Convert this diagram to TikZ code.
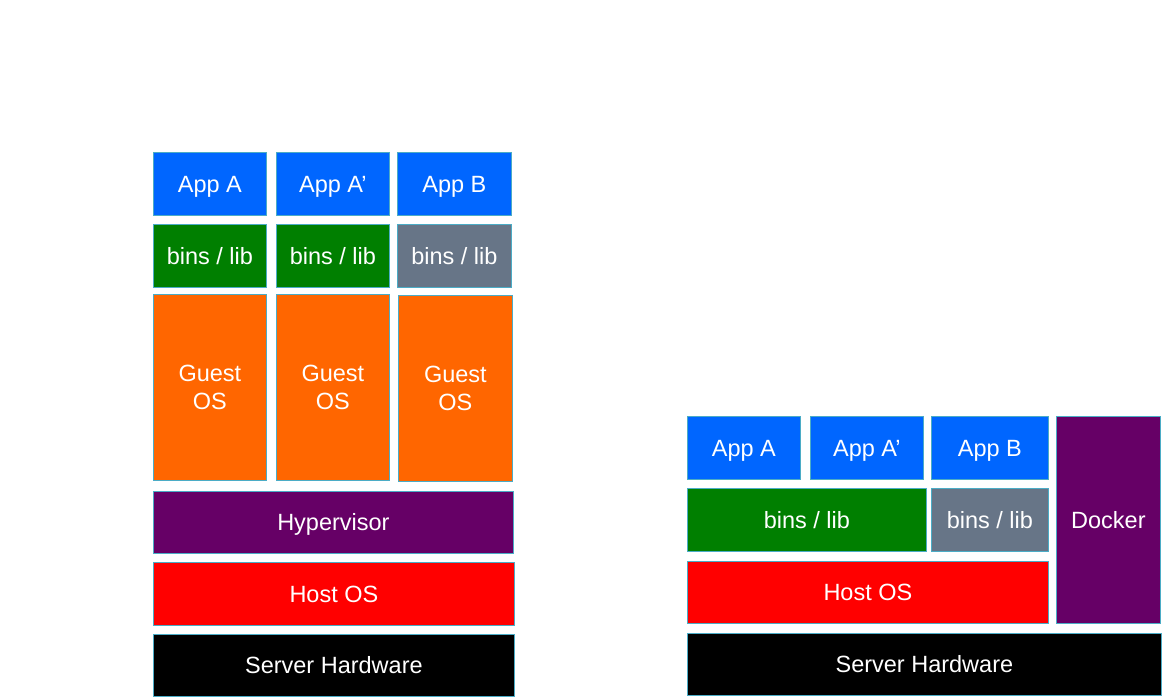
\documentclass[tikz,border=0pt]{standalone}
\usepackage{fontspec}
\setmainfont{Liberation Sans}
\usepackage{tikz}
\usetikzlibrary{positioning}

\definecolor{appblue}{HTML}{0066FF}
\definecolor{libgreen}{HTML}{007F00}
\definecolor{libgray}{HTML}{677587}
\definecolor{osorange}{HTML}{FF6600}
\definecolor{hvpurple}{HTML}{660066}
\definecolor{hostred}{HTML}{FF0000}
\definecolor{edgecyan}{HTML}{4BACC6}

\begin{document}
\begin{tikzpicture}[x=1pt,y=-1pt,
    box/.style={draw=edgecyan,line width=0.8pt,rectangle,anchor=north west,
      inner sep=0pt,text=white,align=center,font=\fontsize{23.5}{28}\selectfont},
    layer/.style={box,text height=17pt,text depth=0pt},
    app/.style={layer,fill=appblue,minimum width=113pt,minimum height=63pt},
    libs/.style={layer,fill=libgreen,minimum height=63pt},
    guest/.style={box,fill=osorange,minimum width=113pt,minimum height=186pt}]
  \useasboundingbox (0,0) rectangle (1162,697);
  % virtual machines
  \node[app] (vmAppA) at (153,152) {App A};
  \node[app] (vmAppA2) at (276,152) {App A'};
  \node[app,minimum width=114pt] (vmAppB) at (397,152) {App B};
  \node[libs,minimum width=113pt] (vmLibA) at (153,224) {bins / lib};
  \node[libs,minimum width=113pt] (vmLibA2) at (276,224) {bins / lib};
  \node[libs,fill=libgray,minimum width=114pt] (vmLibB) at (397,224) {bins / lib};
  \node[guest] (guestA) at (153,294) {Guest\\OS};
  \node[guest] (guestA2) at (276,294) {Guest\\OS};
  \node[guest,minimum width=114pt] (guestB) at (398,295) {Guest\\OS};
  \node[layer,fill=hvpurple,minimum width=360pt,minimum height=62pt] (hypervisor) at (153,491) {Hypervisor};
  \node[layer,fill=hostred,minimum width=361pt,minimum height=63pt] (vmHost) at (153,562) {Host OS};
  \node[layer,fill=black,minimum width=361pt,minimum height=62pt] (vmServer) at (153,634) {Server Hardware};
  % containers
  \node[app] (ctAppA) at (687,416) {App A};
  \node[app] (ctAppA2) at (810,416) {App A'};
  \node[app,minimum width=117pt] (ctAppB) at (931,416) {App B};
  \node[libs,minimum width=239pt] (ctLibA) at (687,488) {bins / lib};
  \node[libs,fill=libgray,minimum width=117pt] (ctLibB) at (931,488) {bins / lib};
  \node[layer,fill=hvpurple,minimum width=104pt,minimum height=207pt] (docker) at (1056,416) {Docker};
  \node[layer,fill=hostred,minimum width=361pt,minimum height=62pt] (ctHost) at (687,561) {Host OS};
  \node[layer,fill=black,minimum width=474pt,minimum height=62pt] (ctServer) at (687,633) {Server Hardware};
\end{tikzpicture}
\end{document}
